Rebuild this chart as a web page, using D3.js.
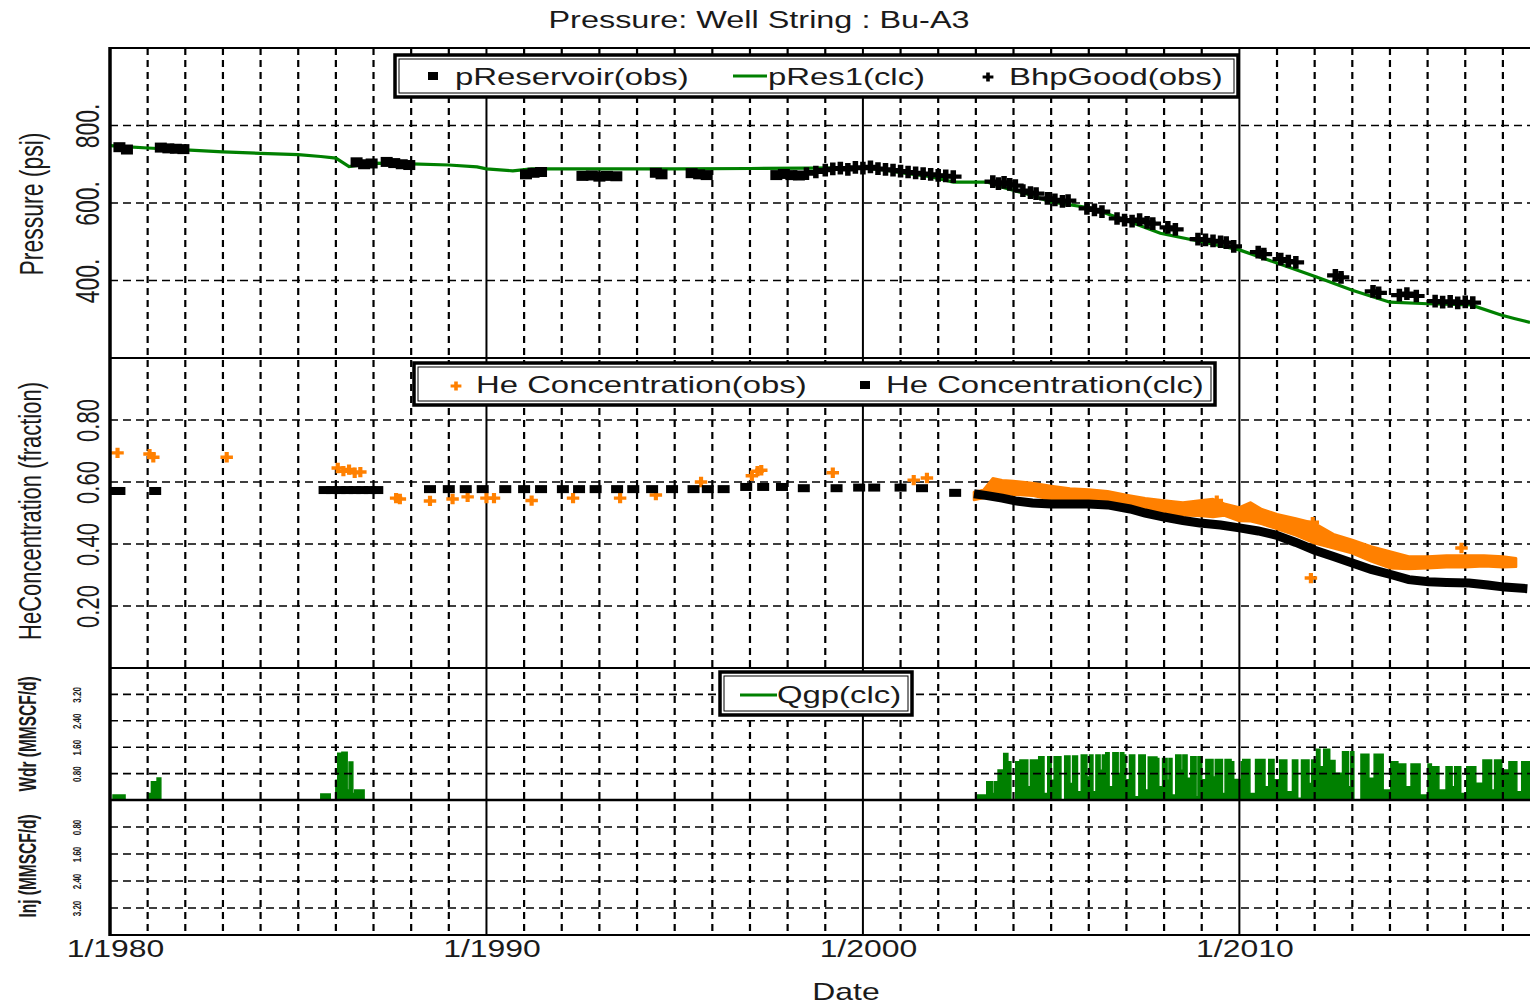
<!DOCTYPE html>
<html>
<head>
<meta charset="utf-8">
<script src="https://cdn.jsdelivr.net/npm/d3@7"></script>
<style>
body { margin: 0; background: #fff; }
svg { display: block; }
text { font-family: "Liberation Sans", Arial, sans-serif; fill: #1a1a1a; }
</style>
</head>
<body>
<div id="chart"></div>
<script>
// ---- data (decimal years) ----
const pressureTicks = [400, 600, 800];
const heTicks = [0.2, 0.4, 0.6, 0.8];
const rateTicks = [0.8, 1.6, 2.4, 3.2];
const dateTicks = [1980, 1990, 2000, 2010];

// pRes1(clc) psi
const pRes1Clc = [
  [1980.0, 748], [1980.5, 745], [1981.0, 742], [1982.0, 737], [1983.0, 732], [1984.0, 728],
  [1985.0, 725], [1985.6, 720], [1986.0, 716], [1986.35, 694], [1987.0, 703], [1988.0, 701],
  [1989.0, 698], [1989.75, 693], [1990.0, 688], [1990.7, 683], [1991.2, 688], [1993.0, 688],
  [1995.0, 688], [1997.0, 689], [1998.5, 690], [1999.9, 691], [2000.5, 686], [2001.1, 677],
  [2001.8, 668], [2002.4, 654], [2003.3, 654], [2003.7, 641], [2004.4, 622], [2005.0, 603],
  [2006.05, 587], [2007.0, 555], [2007.9, 522], [2009.0, 500], [2010.0, 479], [2011.0, 445],
  [2012.05, 409], [2013.0, 375], [2014.0, 344], [2015.0, 340], [2016.15, 337], [2016.95, 311],
  [2017.3, 302], [2017.72, 292]
];

// pReservoir(obs) psi
const pReservoirObs = [
  [1980.25, 744], [1980.45, 738], [1981.35, 743], [1981.55, 741], [1981.75, 740], [1981.95, 739],
  [1986.55, 705], [1986.75, 700], [1986.95, 702], [1987.35, 706], [1987.55, 703], [1987.75, 700], [1987.95, 698],
  [1991.05, 674], [1991.25, 678], [1991.45, 680],
  [1992.55, 670], [1992.8, 671], [1993.0, 668], [1993.2, 670], [1993.45, 669],
  [1994.5, 678], [1994.65, 674],
  [1995.45, 677], [1995.65, 674], [1995.85, 672],
  [1997.7, 672], [1997.9, 675], [1998.1, 672], [1998.3, 671]
];

// BhpGood(obs) psi
const bhpGoodObs = [
  [1998.5, 676], [1998.75, 680], [1999.0, 685], [1999.2, 688], [1999.4, 690], [1999.6, 687],
  [1999.8, 692], [2000.0, 690], [2000.2, 693], [2000.4, 689], [2000.6, 687], [2000.8, 685],
  [2001.0, 682], [2001.2, 680], [2001.4, 678], [2001.6, 676], [2001.8, 674], [2002.0, 671],
  [2002.2, 670], [2002.4, 668],
  [2003.45, 655], [2003.6, 650], [2003.75, 653], [2003.9, 648], [2004.05, 645], [2004.25, 632],
  [2004.45, 627], [2004.6, 624], [2004.9, 612], [2005.1, 608], [2005.3, 604], [2005.45, 606],
  [2005.95, 586], [2006.15, 582], [2006.35, 578],
  [2006.75, 560], [2006.95, 556], [2007.15, 553], [2007.35, 557], [2007.55, 550], [2007.7, 547],
  [2008.1, 537], [2008.3, 532],
  [2008.9, 507], [2009.1, 505], [2009.3, 502], [2009.5, 500], [2009.65, 498], [2009.85, 488],
  [2010.5, 473], [2010.65, 468],
  [2011.1, 455], [2011.3, 450], [2011.5, 447],
  [2012.55, 413], [2012.7, 408],
  [2013.55, 372], [2013.7, 368],
  [2014.25, 362], [2014.45, 366], [2014.7, 360],
  [2015.2, 347], [2015.4, 344], [2015.6, 346], [2015.8, 342], [2016.0, 345], [2016.2, 343]
];

// He Concentration(obs) fraction, sparse points
const heObs = [
  [1980.2, 0.694], [1981.05, 0.69], [1981.15, 0.68], [1983.1, 0.68],
  [1986.05, 0.645], [1986.2, 0.635], [1986.35, 0.64], [1986.5, 0.63], [1986.65, 0.632],
  [1987.6, 0.548], [1987.7, 0.545], [1988.5, 0.539], [1989.1, 0.545], [1989.5, 0.552],
  [1990.0, 0.548], [1990.2, 0.548], [1991.2, 0.54], [1992.3, 0.548], [1993.55, 0.548],
  [1994.5, 0.558], [1995.7, 0.6], [1997.05, 0.62], [1997.2, 0.635], [1997.3, 0.638],
  [1999.2, 0.63], [2001.35, 0.606], [2001.7, 0.613],
  [2009.4, 0.54], [2011.9, 0.29], [2011.95, 0.47], [2015.9, 0.387]
];

// He Concentration(obs) dense band: [year, low, high]
const heObsBand = [
  [2002.95, 0.542, 0.568], [2003.2, 0.548, 0.574], [2003.45, 0.566, 0.612], [2003.7, 0.563, 0.606],
  [2004.0, 0.559, 0.603], [2004.5, 0.556, 0.597], [2005.0, 0.543, 0.587], [2005.5, 0.542, 0.579],
  [2006.0, 0.539, 0.576], [2006.5, 0.535, 0.57], [2007.0, 0.525, 0.558], [2007.5, 0.512, 0.548],
  [2008.0, 0.502, 0.54], [2008.5, 0.493, 0.534], [2009.0, 0.49, 0.541], [2009.3, 0.487, 0.545],
  [2009.6, 0.492, 0.53], [2010.0, 0.474, 0.518], [2010.3, 0.473, 0.534], [2010.6, 0.464, 0.512],
  [2011.0, 0.448, 0.496], [2011.5, 0.428, 0.482], [2012.0, 0.402, 0.467], [2012.5, 0.386, 0.432],
  [2013.0, 0.37, 0.413], [2013.5, 0.344, 0.392], [2014.0, 0.322, 0.376], [2014.5, 0.319, 0.36],
  [2015.0, 0.322, 0.36], [2015.5, 0.325, 0.363], [2016.0, 0.325, 0.363], [2016.5, 0.328, 0.363],
  [2017.0, 0.325, 0.36], [2017.35, 0.327, 0.354]
];

// He Concentration(clc) sparse squares
const heClc = [
  [1980.1, 0.571], [1980.25, 0.571], [1981.2, 0.571],
  [1985.7, 0.574], [1985.9, 0.574], [1986.1, 0.574], [1986.3, 0.574], [1986.5, 0.574],
  [1986.7, 0.574], [1986.9, 0.574], [1987.1, 0.574],
  [1988.5, 0.577], [1989.0, 0.577], [1989.45, 0.577], [1989.9, 0.577],
  [1990.5, 0.577], [1991.0, 0.577], [1991.45, 0.577], [1992.03, 0.577], [1992.46, 0.577],
  [1992.9, 0.577], [1993.47, 0.577], [1993.9, 0.577], [1994.4, 0.577], [1994.93, 0.577],
  [1995.5, 0.577], [1995.88, 0.577], [1996.3, 0.577],
  [1996.9, 0.584], [1997.35, 0.584], [1997.85, 0.584], [1998.43, 0.58], [1999.3, 0.58],
  [1999.9, 0.582], [2000.3, 0.582], [2001.0, 0.582], [2001.57, 0.58], [2002.45, 0.565]
];

// He Concentration(clc) dense band centre line
const heClcBand = [
  [2002.95, 0.562], [2003.3, 0.556], [2003.7, 0.548], [2004.05, 0.539], [2004.5, 0.532],
  [2005.0, 0.529], [2005.5, 0.529], [2006.0, 0.529], [2006.5, 0.526], [2007.1, 0.513],
  [2007.5, 0.5], [2008.0, 0.487], [2008.5, 0.476], [2008.95, 0.468], [2009.5, 0.461],
  [2010.0, 0.452], [2010.5, 0.442], [2010.97, 0.429], [2011.5, 0.405], [2012.0, 0.38],
  [2012.5, 0.36], [2013.0, 0.339], [2013.5, 0.318], [2014.07, 0.30], [2014.5, 0.285],
  [2015.03, 0.278], [2015.5, 0.276], [2016.1, 0.274], [2016.6, 0.268], [2017.05, 0.261],
  [2017.65, 0.256]
];

// Qgp(clc) MMSCF/d, step values
const qgpClc = [
  [1980.0, 0], [1980.08, 0.15], [1980.4, 0], [1981.0, 0.2], [1981.1, 0.55], [1981.25, 0.67], [1981.35, 0],
  [1985.6, 0.18], [1985.85, 0], [1986.0, 0.6], [1986.05, 1.42], [1986.16, 1.45], [1986.3, 0.3],
  [1986.35, 1.15], [1986.45, 0.2], [1986.5, 0.3], [1986.75, 0],
  [2003.0, 0.1], [2003.05, 0.15], [2003.29, 0.55], [2003.45, 0.2], [2003.5, 0.55], [2003.59, 0.91],
  [2003.74, 1.41], [2003.85, 1.16], [2003.93, 0], [2004.06, 1.16], [2004.17, 1.21], [2004.38, 0.4],
  [2004.45, 1.21], [2004.67, 1.31], [2004.81, 0.2], [2004.91, 1.31], [2005.0, 0.6], [2005.08, 1.31],
  [2005.26, 0], [2005.36, 1.33], [2005.5, 0.5], [2005.57, 1.33],
  [2005.7, 0.25], [2005.8, 1.36], [2005.95, 0.7], [2006.02, 1.36], [2006.11, 0.25], [2006.19, 1.36],
  [2006.3, 0.9], [2006.36, 1.36], [2006.45, 1.43], [2006.54, 0.4],
  [2006.64, 1.43], [2006.78, 0.8], [2006.84, 1.43], [2006.93, 1.36], [2006.98, 0.61], [2007.08, 1.36],
  [2007.22, 0.1], [2007.33, 1.36], [2007.5, 0.3], [2007.58, 1.3],
  [2007.81, 1.26], [2007.86, 0.4], [2007.96, 1.26], [2008.08, 0.6], [2008.13, 1.26], [2008.21, 0.15],
  [2008.31, 1.36], [2008.45, 0.9], [2008.5, 1.36], [2008.61, 0.66],
  [2008.71, 1.31], [2008.85, 0.1], [2008.9, 1.31], [2009.0, 0.61], [2009.11, 1.23], [2009.3, 0.7],
  [2009.36, 1.23], [2009.55, 0.2], [2009.62, 1.23], [2009.78, 1.16], [2009.85, 0.62], [2010.05, 1.16],
  [2010.09, 1.23], [2010.28, 0.2], [2010.43, 1.23], [2010.68, 0.4], [2010.78, 1.23], [2010.92, 0.61],
  [2011.07, 1.21], [2011.26, 0.25], [2011.41, 1.21], [2011.55, 0.05], [2011.65, 1.21], [2011.85, 0.5],
  [2011.92, 1.21], [2012.05, 1.54],
  [2012.14, 1.01], [2012.24, 1.54], [2012.4, 1.2], [2012.54, 0.81], [2012.74, 1.46], [2012.9, 0.4],
  [2012.96, 1.46], [2013.04, 0], [2013.23, 1.39],
  [2013.44, 0.66], [2013.58, 1.39], [2013.82, 0.3], [2014.02, 1.16], [2014.21, 1.09], [2014.42, 0.4],
  [2014.56, 1.09], [2014.8, 0.15], [2015.01, 1.09], [2015.1, 1.01], [2015.3, 0.3], [2015.49, 1.01],
  [2015.65, 0.4], [2015.72, 1.01],
  [2015.88, 0.2], [2016.04, 1.01], [2016.28, 0.51], [2016.47, 1.21], [2016.7, 0.3], [2016.78, 1.21],
  [2016.97, 0.91], [2017.16, 1.16],
  [2017.37, 0.25], [2017.5, 1.16], [2017.75, 1.16]
];

// ---- layout ----
const W = 1530, H = 1005;
const left = 110, right = 1530;
const top1 = 48, top2 = 358, top3 = 668, mid3 = 800, bottom = 935;
const sx = 1.33;           // horizontal stretch of the original raster text
const sxLeg = 1.37;
const green = '#008000', orange = '#ff8000';

const x = d3.scaleLinear().domain([1980, 2017.72]).range([left, right]);
const yP = d3.scaleLinear().domain([200, 1000]).range([top2, top1]);
const yHe = d3.scaleLinear().domain([0, 1]).range([top3, top2]);
const yW = d3.scaleLinear().domain([0, 4]).range([mid3, top3]);
const yI = d3.scaleLinear().domain([0, 4]).range([mid3, bottom]);

const svg = d3.select('#chart').append('svg')
  .attr('width', W).attr('height', H);

svg.append('clipPath').attr('id', 'plot')
  .append('rect').attr('x', left).attr('y', top1).attr('width', right - left).attr('height', bottom - top1);

const plot = svg.append('g').attr('clip-path', 'url(#plot)');

// Qgp area (drawn under grid)
const qArea = d3.area().curve(d3.curveStepAfter)
  .x(d => x(d[0])).y0(yW(0)).y1(d => yW(d[1]));
plot.append('path').datum(qgpClc)
  .attr('d', qArea).attr('fill', green);
plot.append('path').datum(qgpClc)
  .attr('d', d3.line().curve(d3.curveStepAfter).x(d => x(d[0])).y(d => yW(d[1])))
  .attr('fill', 'none').attr('stroke', green).attr('stroke-width', 1.5);

// grid
const years = d3.range(1981, 2018).filter(d => d % 10 !== 0);
const grid = plot.append('g');
grid.selectAll('.vg').data(years).join('line')
  .attr('x1', d => x(d)).attr('x2', d => x(d))
  .attr('y1', top1).attr('y2', bottom)
  .attr('stroke', '#000').attr('stroke-width', 2.2).attr('stroke-dasharray', '7,5');

const hLines = [
  ...pressureTicks.map(d => yP(d)),
  ...heTicks.map(d => yHe(d)),
  ...rateTicks.map(d => yW(d)),
  ...rateTicks.map(d => yI(d))
];
grid.selectAll('.hg').data(hLines).join('line')
  .attr('x1', left).attr('x2', right)
  .attr('y1', d => d).attr('y2', d => d)
  .attr('stroke', '#000').attr('stroke-width', 1.6).attr('stroke-dasharray', '8,5');

grid.selectAll('.dg').data([1990, 2000, 2010]).join('line')
  .attr('x1', d => x(d)).attr('x2', d => x(d))
  .attr('y1', top1).attr('y2', bottom)
  .attr('stroke', '#000').attr('stroke-width', 2);

// pressure panel
plot.append('path').datum(pRes1Clc)
  .attr('d', d3.line().x(d => x(d[0])).y(d => yP(d[1])))
  .attr('fill', 'none').attr('stroke', green).attr('stroke-width', 3.2);

plot.selectAll('.pr').data(pReservoirObs).join('rect')
  .attr('x', d => x(d[0]) - 6).attr('y', d => yP(d[1]) - 5)
  .attr('width', 12).attr('height', 10).attr('fill', '#000');

const cross = d3.symbol(d3.symbolCross, 90);
plot.selectAll('.bhp').data(bhpGoodObs).join('path')
  .attr('d', cross)
  .attr('transform', d => `translate(${x(d[0])},${yP(d[1])}) scale(1.3,1)`)
  .attr('fill', '#000');

// He panel
plot.append('path').datum(heObsBand)
  .attr('d', d3.area().x(d => x(d[0])).y0(d => yHe(d[1])).y1(d => yHe(d[2])))
  .attr('fill', orange).attr('stroke', orange).attr('stroke-width', 2.5)
  .attr('stroke-linejoin', 'round');

plot.selectAll('.heo').data(heObs).join('path')
  .attr('d', d3.symbol(d3.symbolCross, 60))
  .attr('transform', d => `translate(${x(d[0])},${yHe(d[1])}) scale(1.2,1)`)
  .attr('fill', orange);

plot.append('path').datum(heClcBand)
  .attr('d', d3.line().x(d => x(d[0])).y(d => yHe(d[1])))
  .attr('fill', 'none').attr('stroke', '#000').attr('stroke-width', 9);

plot.selectAll('.hec').data(heClc).join('rect')
  .attr('x', d => x(d[0]) - 6).attr('y', d => yHe(d[1]) - 4)
  .attr('width', 12).attr('height', 8).attr('fill', '#000');

// frame lines
const frame = svg.append('g').attr('stroke', '#000');
[top1, top2, top3, mid3, bottom].forEach(y => {
  frame.append('line').attr('x1', left).attr('x2', right).attr('y1', y).attr('y2', y)
    .attr('stroke-width', y === mid3 ? 2.4 : 2);
});
frame.append('line').attr('x1', left).attr('x2', left).attr('y1', top1 - 1).attr('y2', bottom + 1)
  .attr('stroke-width', 3.5);

// y axes (rotated tick labels)
function rotatedAxis(scale, ticks, fmt, xOff, size, weight) {
  const g = svg.append('g').attr('transform', `translate(${left},0)`)
    .call(d3.axisLeft(scale).tickValues(ticks).tickFormat(fmt).tickSize(0));
  g.select('.domain').remove();
  g.selectAll('text')
    .attr('x', null).attr('dy', '0.35em')
    .attr('text-anchor', 'middle')
    .attr('font-size', size)
    .attr('font-weight', weight || 'normal')
    .attr('fill', '#1a1a1a')
    .attr('transform', `translate(${xOff},0) scale(1.45,1) rotate(-90)`);
  return g;
}
rotatedAxis(yP, pressureTicks, d => d + '.', -23, 23);
rotatedAxis(yHe, heTicks, d3.format('.2f'), -22, 22);
rotatedAxis(yW, rateTicks, d3.format('.2f'), -33, 8, 'bold');
rotatedAxis(yI, rateTicks, d3.format('.2f'), -33, 8, 'bold');

// x axis
const xg = svg.append('g').attr('transform', `translate(0,${bottom})`)
  .call(d3.axisBottom(x).tickValues(dateTicks).tickFormat(d => '1/' + d).tickSize(0));
xg.select('.domain').remove();
xg.selectAll('text')
  .attr('y', null).attr('dy', null)
  .attr('font-size', 24).attr('fill', '#1a1a1a')
  .attr('transform', `translate(5,22) scale(${sx},1)`);

// titles
function label(txt, px, py, size, rot, stretch, weight) {
  svg.append('text')
    .attr('transform', rot
      ? `translate(${px},${py}) scale(${stretch},1) rotate(-90)`
      : `translate(${px},${py}) scale(${stretch},1)`)
    .attr('text-anchor', 'middle')
    .attr('dy', rot ? '0.35em' : null)
    .attr('font-size', size)
    .attr('font-weight', weight || 'normal')
    .text(txt);
}
label('Pressure: Well String : Bu-A3', 759, 28, 23, false, 1.41);
label('Date', 846, 1000, 24, false, sx);
label('Pressure (psi)', 31, 204, 23, true, 1.45);
label('HeConcentration (fraction)', 30, 511, 22, true, 1.45);
label('Wdr (MMSCF/d)', 27, 734, 15.5, true, 1.6, 'bold');
label('Inj (MMSCF/d)', 27, 866, 15.5, true, 1.6, 'bold');

// legends
function legendBox(bx, by, bw, bh) {
  const g = svg.append('g');
  g.append('rect').attr('x', bx).attr('y', by).attr('width', bw).attr('height', bh)
    .attr('fill', '#fff').attr('stroke', '#000').attr('stroke-width', 3.5);
  g.append('rect').attr('x', bx + 4).attr('y', by + 4).attr('width', bw - 8).attr('height', bh - 8)
    .attr('fill', 'none').attr('stroke', '#000').attr('stroke-width', 1);
  return g;
}
function legendText(g, txt, px, py) {
  g.append('text').attr('transform', `translate(${px},${py}) scale(${sxLeg},1)`)
    .attr('font-size', 24).text(txt);
}

const lg1 = legendBox(395, 55, 843, 42);
lg1.append('rect').attr('x', 428).attr('y', 72).attr('width', 10).attr('height', 8).attr('fill', '#000');
legendText(lg1, 'pReservoir(obs)', 455, 85);
lg1.append('line').attr('x1', 733).attr('x2', 767).attr('y1', 76).attr('y2', 76)
  .attr('stroke', green).attr('stroke-width', 3.2);
legendText(lg1, 'pRes1(clc)', 768, 85);
lg1.append('path').attr('d', d3.symbol(d3.symbolCross, 45))
  .attr('transform', 'translate(988,77) scale(1.2,1)').attr('fill', '#000');
legendText(lg1, 'BhpGood(obs)', 1009, 85);

const lg2 = legendBox(414, 363, 801, 42);
lg2.append('path').attr('d', d3.symbol(d3.symbolCross, 45))
  .attr('transform', 'translate(456,386) scale(1.2,1)').attr('fill', orange);
legendText(lg2, 'He Concentration(obs)', 476, 393);
lg2.append('rect').attr('x', 860).attr('y', 381).attr('width', 10).attr('height', 8).attr('fill', '#000');
legendText(lg2, 'He Concentration(clc)', 886, 393);

const lg3 = legendBox(720, 672, 192, 43);
lg3.append('line').attr('x1', 740).attr('x2', 777).attr('y1', 695).attr('y2', 695)
  .attr('stroke', green).attr('stroke-width', 3.2);
legendText(lg3, 'Qgp(clc)', 777, 703);
</script>
</body>
</html>
